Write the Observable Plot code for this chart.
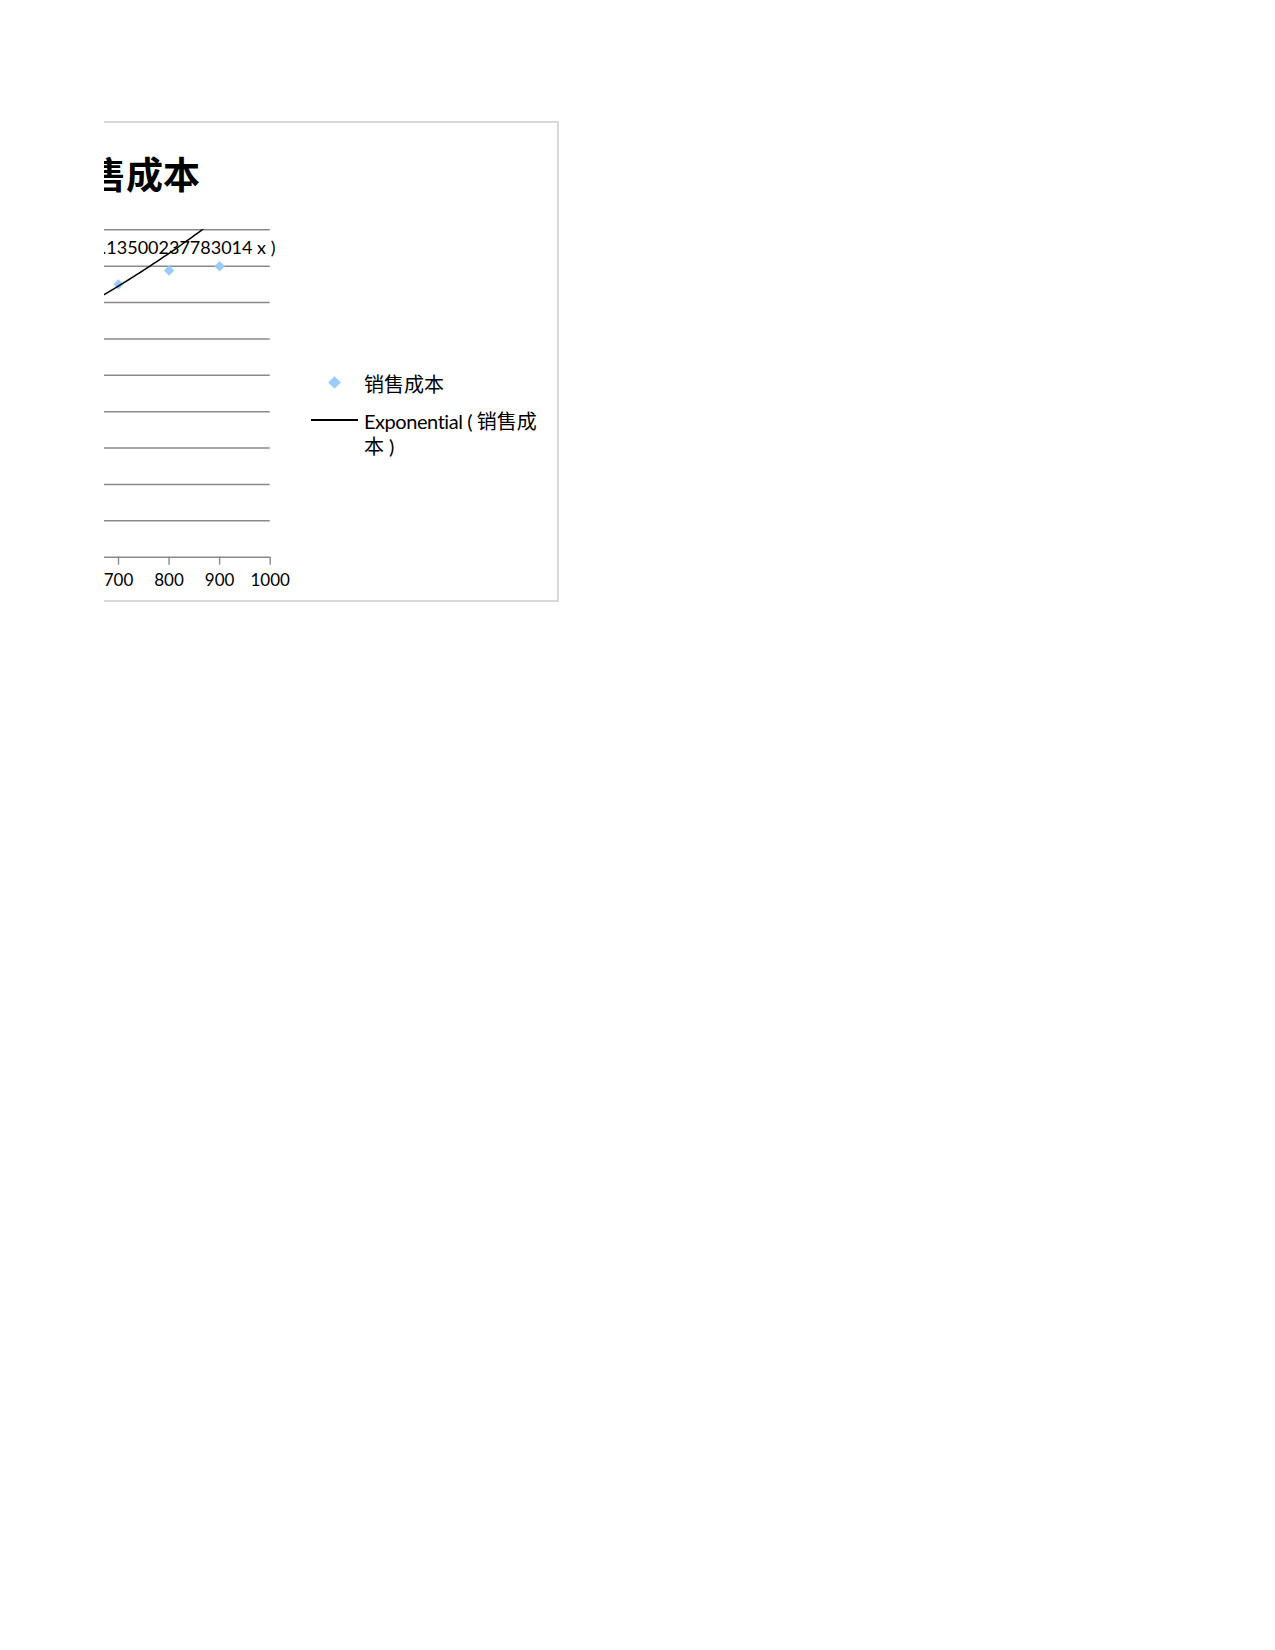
<!DOCTYPE html>
<html>
<head>
<meta charset="utf-8">
<script src="https://cdn.jsdelivr.net/npm/d3@7"></script>
<script src="https://cdn.jsdelivr.net/npm/@observablehq/plot@0.6"></script>
<style>
  html, body { margin: 0; padding: 0; background: #fff; }
  body { width: 1275px; height: 1650px; position: relative; font-family: Lato, "Noto Sans CJK SC", sans-serif; }
  #clip { position: absolute; left: 104px; top: 0; width: 1171px; height: 1650px; overflow: hidden; }
  #box { position: absolute; left: -410px; top: 120.7px; width: 865px; height: 481px; box-sizing: border-box; border: 2px solid #d9d9d9; }
  #title { position: absolute; left: -128px; top: 155.4px; width: 300px; text-align: center; font-family: "Noto Sans CJK SC"; font-weight: bold; font-size: 37px; line-height: 37px; white-space: nowrap; }
  #plot { position: absolute; left: -410px; top: 200px; }
  .lg-text { position: absolute; left: 260px; font-size: 20px; white-space: nowrap; color: #000; }
  #lg1 { top: 373.7px; line-height: 20px; }
  #lg2 { top: 408.8px; line-height: 25.5px; }
  #lg2 .lat { letter-spacing: -0.45px; }
  #lg-diamond { position: absolute; left: 225.8px; top: 377.8px; width: 9px; height: 9px; background: #99ccff; transform: rotate(45deg); }
  #lg-line { position: absolute; left: 207px; top: 419px; width: 47px; height: 2px; background: #000; }
</style>
</head>
<body>
<div id="clip">
  <div id="box"></div>
  <div id="title"></div>
  <div id="plot"></div>
  <div id="lg-diamond"></div>
  <div class="lg-text" id="lg1"></div>
  <div id="lg-line"></div>
  <div class="lg-text" id="lg2"></div>
</div>
<script>
// ---- data ----
const chartTitle = "销售成本";
const seriesName = "销售成本";
const trendName = "Exponential ( 销售成本 )";
const trendNameLines = [["Exponential ( ", "销售成"], ["", "本 )"]];
const trendLabel = "f(x) = 335.8 exp( 0.13500237783014 x )";
const xValues = [700, 800, 900];
const yValues = [750, 788, 800];
const xTicks = [0, 100, 200, 300, 400, 500, 600, 700, 800, 900, 1000];
const yTicks = [0, 100, 200, 300, 400, 500, 600, 700, 800, 900];
const trendA = 335.8;
const trendK = 0.0011393;

// ---- derived tables ----
const points = xValues.map((x, i) => ({x, y: yValues[i]}));
const trendPts = d3.range(0, 1001, 5).map(x => ({x, y: trendA * Math.exp(trendK * x)}));

document.getElementById("title").textContent = chartTitle;
document.getElementById("lg1").textContent = seriesName;
const lg2 = document.getElementById("lg2");
lg2.title = trendName;
trendNameLines.forEach(([lat, cjk], i) => {
  if (i) lg2.appendChild(document.createElement("br"));
  if (lat) {
    const s = document.createElement("span");
    s.className = "lat";
    s.textContent = lat;
    lg2.appendChild(s);
  }
  lg2.appendChild(document.createTextNode(cjk));
});

const chart = Plot.plot({
  width: 620,
  height: 400,
  marginLeft: 70,
  marginRight: 44.3,
  marginTop: 29.3,
  marginBottom: 43.3,
  style: {background: "transparent", fontFamily: "Lato, 'Noto Sans CJK SC', sans-serif", fontSize: "17px", overflow: "visible", color: "#000"},
  x: {domain: [0, 1000], axis: null, label: null},
  y: {domain: [0, 900], axis: null, label: null},
  marks: [
    Plot.ruleY(yTicks, {stroke: "#898989", strokeWidth: 1.4}),
    Plot.axisX({ticks: xTicks, tickSize: 8, tickPadding: 9, tickFormat: d => String(d), stroke: "#898989", strokeWidth: 1.4, fill: "#000", fontSize: 17, label: null}),
    Plot.text([trendLabel], {frameAnchor: "top-right", dx: 5.3, dy: 23.7, textAnchor: "end", lineAnchor: "bottom", fontSize: 18, fill: "#000"}),
    Plot.dot(points, {x: "x", y: "y", symbol: "diamond2", r: 4.7, fill: "#99ccff", stroke: "none"}),
    Plot.line(trendPts, {x: "x", y: "y", stroke: "#000", strokeWidth: 1.5, clip: true})
  ]
});
document.getElementById("plot").appendChild(chart);
</script>
</body>
</html>
